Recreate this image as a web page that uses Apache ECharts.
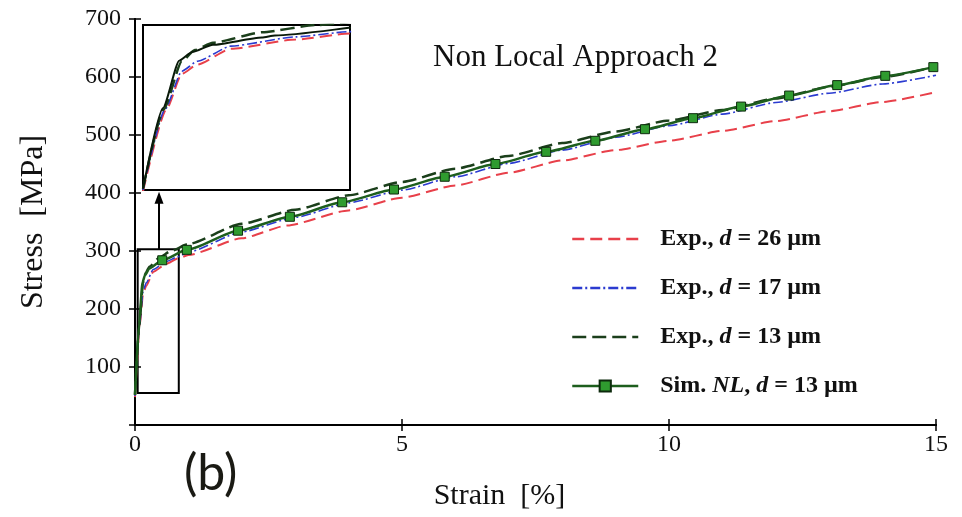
<!DOCTYPE html>
<html>
<head>
<meta charset="utf-8">
<script src="https://cdn.jsdelivr.net/npm/echarts@6/dist/echarts.min.js"></script>
<style>
  html, body { margin: 0; padding: 0; background: #fff; }
  #chart { width: 962px; height: 517px; }
</style>
</head>
<body>
<div id="chart"></div>
<script>
// Tick values
const strainTicks = [0, 5, 10, 15];
const stressTicks = [100, 200, 300, 400, 500, 600, 700];
const insetStressTicks = [135, 220];

// Experimental curves, [strain %, stress MPa]
const exp26 = [
  [0, 48], [0.09, 172], [0.15, 226], [0.21, 240], [0.34, 264], [0.59, 278], [0.8, 287],
  [1, 293], [2, 322], [2.85, 344], [4, 370], [5, 392], [6, 413], [7, 435], [8, 456],
  [9, 474], [10, 490], [11, 507], [12, 524], [13, 541], [14, 557], [15, 574]
];
const exp17 = [
  [0, 50], [0.085, 172], [0.15, 230], [0.21, 245], [0.34, 268], [0.59, 282], [0.8, 290],
  [1, 298], [2, 333], [3, 358], [4, 383], [5, 405], [6, 428], [7, 451], [8, 474],
  [9, 496], [10, 516], [11, 536], [12, 556], [13, 572], [14, 588], [15, 603]
];
const exp13 = [
  [0, 52], [0.08, 172], [0.15, 245], [0.2, 262], [0.27, 273], [0.46, 289], [0.67, 300],
  [1, 312], [2, 347], [3, 371], [4, 396], [5, 419], [6, 442], [7, 464], [8, 486],
  [9, 506], [10, 525], [11, 543], [12, 563], [13, 583], [14, 600], [15, 618]
];

// Non-local simulation: elastic/knee points (no marker) and marked points
const simKnee = [[0, 52], [0.077, 174], [0.14, 246], [0.19, 259], [0.27, 270], [0.46, 281]];
const simMarked = [
  [0.51, 284], [0.97, 302], [1.93, 335], [2.9, 359], [3.88, 384], [4.85, 406], [5.8, 428],
  [6.75, 450], [7.7, 471], [8.62, 490], [9.55, 510], [10.45, 529], [11.35, 549],
  [12.25, 568], [13.15, 586], [14.05, 602], [14.95, 617]
];

// Zoomed window [strain, stress] shown in the inset
const zoomWindow = [[0.05, 55], [0.82, 303]];
const arrowPath = [[0.45, 303], [0.45, 392]];

const names = [
  'Exp., d = 26 µm',
  'Exp., d = 17 µm',
  'Exp., d = 13 µm',
  'Sim. NL, d = 13 µm'
];
const legendRich = [
  '{b|Exp., }{i|d}{b| = 26 µm}',
  '{b|Exp., }{i|d}{b| = 17 µm}',
  '{b|Exp., }{i|d}{b| = 13 µm}',
  '{b|Sim. }{i|NL}{b|, }{i|d}{b| = 13 µm}'
];

const serif = 'Liberation Serif';
const ink = '#111';

const styles = {
  exp26: { color: '#e8404a', width: 2, type: [12, 6] },
  exp17: { color: '#2b3bd0', width: 1.6, type: [10, 3, 2, 3] },
  exp13: { color: '#1b3f1b', width: 2.5, type: [14, 6] },
  sim:   { color: '#1d5e1d', width: 2.5, type: 'solid' }
};

const simData = simKnee.map(p => ({ value: p, symbol: 'none' }))
  .concat(simMarked.map(p => ({ value: p })));

function lineSeries(name, data, st, xi, yi, extra) {
  return Object.assign({
    type: 'line',
    name: name,
    data: data,
    xAxisIndex: xi,
    yAxisIndex: yi,
    symbol: 'none',
    smooth: 0.2,
    smoothMonotone: 'x',
    clip: true,
    lineStyle: { color: st.color, width: st.width, type: st.type },
    itemStyle: { color: st.color },
    emphasis: { disabled: true }
  }, extra || {});
}

const mainSim = lineSeries(names[3], simData, styles.sim, 0, 0, {
  symbol: 'rect',
  symbolSize: 9,
  showAllSymbol: true,
  itemStyle: { color: '#2f9b2f', borderColor: '#0d2a0d', borderWidth: 1 },
  z: 5,
  markArea: {
    silent: true,
    itemStyle: { color: 'rgba(0,0,0,0)', borderColor: '#000', borderWidth: 2 },
    data: [[{ coord: zoomWindow[0] }, { coord: zoomWindow[1] }]]
  },
  markLine: {
    silent: true,
    symbol: ['none', 'triangle'],
    symbolSize: [9, 12],
    label: { show: false },
    lineStyle: { color: '#000', width: 2, type: 'solid' },
    data: [[{ coord: arrowPath[0] }, { coord: arrowPath[1] }]]
  }
});

const insetSimStyle = { color: '#0a1a0a', width: 2, type: 'solid' };

// Legend entries: the experimental curves show only their line pattern
const legendData = names.map((n, i) => i < 3
  ? { name: n, itemStyle: { opacity: 0 } }
  : { name: n });

const option = {
  animation: false,
  backgroundColor: '#fff',
  title: {
    text: 'Non Local Approach 2',
    left: 428,
    top: 37,
    textStyle: { fontFamily: serif, fontSize: 31, fontWeight: 'normal', color: ink }
  },
  legend: {
    orient: 'vertical',
    left: 566,
    top: 222,
    itemWidth: 66,
    itemHeight: 14,
    itemGap: 25,
    data: legendData,
    selectedMode: false,
    lineStyle: { width: 2.5 },
    formatter: function (n) { return legendRich[names.indexOf(n)]; },
    textStyle: {
      padding: [0, 0, 0, 17],
      rich: {
        b: { fontFamily: serif, fontSize: 24, fontWeight: 'bold', color: ink },
        i: { fontFamily: serif, fontSize: 24, fontWeight: 'bold', fontStyle: 'italic', color: ink }
      }
    }
  },
  graphic: [{
    type: 'text',
    left: 184,
    top: 449,
    style: { text: '(b)', font: '50px Lato', fill: '#1a1a14' }
  }],
  grid: [
    { left: 135, top: 19, right: 26, bottom: 92, containLabel: false },
    { left: 143, top: 25, width: 207, height: 165, show: true, backgroundColor: '#fff', borderColor: '#000', borderWidth: 2, z: 3 }
  ],
  xAxis: [
    {
      type: 'value', gridIndex: 0, min: 0, max: 15, interval: 5,
      name: 'Strain  [%]', nameLocation: 'middle', nameGap: 56,
      nameTextStyle: { fontFamily: serif, fontSize: 30, color: ink, padding: [0, 72, 0, 0] },
      axisLine: { lineStyle: { color: '#000', width: 2 } },
      axisTick: { inside: true, length: 6, lineStyle: { color: '#000', width: 1.5 } },
      axisLabel: { fontFamily: serif, fontSize: 24, color: ink, margin: 8,
        formatter: v => strainTicks.includes(v) ? String(v) : '' },
      splitLine: { show: false }
    },
    {
      type: 'value', gridIndex: 0, position: 'top', min: 0, max: 15, interval: 5,
      axisLine: { lineStyle: { color: '#000', width: 2 } },
      axisTick: { inside: true, length: 6, lineStyle: { color: '#000', width: 1.5 } },
      axisLabel: { show: false }, splitLine: { show: false }
    },
    {
      type: 'value', gridIndex: 1, min: 0, max: 0.8,
      axisLine: { show: false }, axisTick: { show: false },
      axisLabel: { show: false }, splitLine: { show: false }
    }
  ],
  yAxis: [
    {
      type: 'value', gridIndex: 0, min: 0, max: 700, interval: 100,
      name: 'Stress  [MPa]', nameLocation: 'middle', nameGap: 85, nameRotate: 90,
      nameTextStyle: { fontFamily: serif, fontSize: 32, color: ink },
      axisLine: { lineStyle: { color: '#000', width: 2 } },
      axisTick: { inside: true, length: 6, lineStyle: { color: '#000', width: 1.5 } },
      axisLabel: { fontFamily: serif, fontSize: 24, color: ink, margin: 14,
        formatter: v => stressTicks.includes(v) ? String(v) : '' },
      splitLine: { show: false }
    },
    {
      type: 'value', gridIndex: 0, position: 'right', min: 0, max: 700, interval: 100,
      axisLine: { lineStyle: { color: '#000', width: 2 } },
      axisTick: { inside: true, length: 6, lineStyle: { color: '#000', width: 1.5 } },
      axisLabel: { show: false }, splitLine: { show: false }
    },
    {
      type: 'value', gridIndex: 1, min: 50, max: 300,
      axisLine: { show: false },
      axisTick: { show: true, inside: true, length: 6, customValues: insetStressTicks,
        lineStyle: { color: '#000', width: 1.5 } },
      axisLabel: { show: false }, splitLine: { show: false }
    }
  ],
  series: [
    lineSeries(names[0], exp26, styles.exp26, 0, 0),
    lineSeries(names[1], exp17, styles.exp17, 0, 0),
    lineSeries(names[2], exp13, styles.exp13, 0, 0, { z: 4 }),
    mainSim,
    // inset copies
    lineSeries(names[0], exp26, styles.exp26, 2, 2, { z: 6 }),
    lineSeries(names[1], exp17, styles.exp17, 2, 2, { z: 6 }),
    lineSeries(names[2], exp13, styles.exp13, 2, 2, { z: 6 }),
    lineSeries(names[3], simData.map(d => d.value), insetSimStyle, 2, 2, { z: 7 })
  ]
};

const chart = echarts.init(document.getElementById('chart'), null, { renderer: 'canvas' });
chart.setOption(option);
</script>
</body>
</html>
